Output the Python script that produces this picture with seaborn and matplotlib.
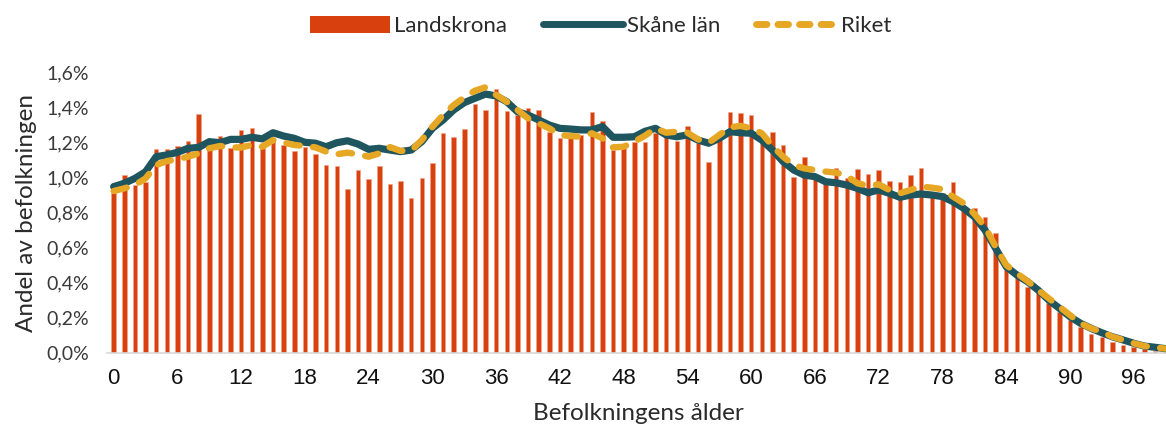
import numpy as np
import pandas as pd
import matplotlib
matplotlib.use("Agg")
import matplotlib.pyplot as plt
import seaborn as sns
from matplotlib.lines import Line2D
from matplotlib.patches import Patch
from matplotlib.ticker import FuncFormatter, FixedLocator

ages = list(range(100))

landskrona = [0.911, 1.014, 0.958, 0.977, 1.162, 1.166, 1.181, 1.212, 1.366, 1.187,
              1.236, 1.170, 1.273, 1.284, 1.170, 1.215, 1.187, 1.154, 1.177, 1.137,
              1.074, 1.067, 0.935, 1.042, 0.993, 1.067, 0.964, 0.981, 0.886, 1.000,
              1.086, 1.254, 1.231, 1.277, 1.419, 1.387, 1.507, 1.380, 1.360, 1.396,
              1.385, 1.263, 1.227, 1.227, 1.244, 1.375, 1.324, 1.158, 1.173, 1.206,
              1.206, 1.254, 1.231, 1.210, 1.296, 1.197, 1.092, 1.263, 1.375, 1.372,
              1.358, 1.260, 1.263, 1.187, 1.006, 1.116, 1.006, 0.977, 1.053, 0.996,
              1.051, 1.021, 1.042, 0.981, 0.975, 1.017, 1.053, 0.920, 0.910, 0.977,
              0.827, 0.829, 0.774, 0.684, 0.492, 0.431, 0.377, 0.339, 0.282, 0.234,
              0.187, 0.149, 0.107, 0.091, 0.063, 0.044, 0.030, 0.020, 0.012, 0.008]

skane = [0.949, 0.968, 0.996, 1.034, 1.120, 1.130, 1.145, 1.168, 1.173, 1.206,
         1.200, 1.219, 1.219, 1.231, 1.222, 1.257, 1.238, 1.225, 1.202, 1.197,
         1.177, 1.200, 1.211, 1.192, 1.162, 1.168, 1.158, 1.149, 1.158, 1.206,
         1.282, 1.330, 1.387, 1.429, 1.454, 1.478, 1.467, 1.434, 1.377, 1.358,
         1.330, 1.301, 1.282, 1.278, 1.273, 1.273, 1.292, 1.231, 1.231, 1.234,
         1.265, 1.282, 1.244, 1.234, 1.244, 1.215, 1.197, 1.225, 1.263, 1.257,
         1.254, 1.215, 1.158, 1.092, 1.044, 1.015, 1.006, 0.977, 0.971, 0.958,
         0.939, 0.914, 0.930, 0.911, 0.888, 0.901, 0.907, 0.901, 0.892, 0.863,
         0.825, 0.777, 0.701, 0.597, 0.492, 0.444, 0.406, 0.358, 0.301, 0.254,
         0.206, 0.168, 0.139, 0.114, 0.091, 0.073, 0.054, 0.038, 0.031, 0.023]

riket = [0.924, 0.939, 0.958, 0.996, 1.072, 1.095, 1.105, 1.120, 1.139, 1.168,
         1.181, 1.173, 1.173, 1.187, 1.177, 1.215, 1.200, 1.187, 1.181, 1.173,
         1.149, 1.134, 1.143, 1.134, 1.120, 1.139, 1.175, 1.153, 1.155, 1.215,
         1.291, 1.358, 1.415, 1.459, 1.497, 1.517, 1.473, 1.434, 1.387, 1.339,
         1.311, 1.282, 1.244, 1.238, 1.234, 1.254, 1.225, 1.173, 1.177, 1.206,
         1.240, 1.282, 1.257, 1.263, 1.257, 1.219, 1.200, 1.244, 1.288, 1.296,
         1.282, 1.254, 1.181, 1.120, 1.072, 1.053, 1.044, 1.035, 1.029, 1.010,
         0.968, 0.954, 0.962, 0.930, 0.911, 0.930, 0.949, 0.943, 0.934, 0.892,
         0.854, 0.793, 0.720, 0.606, 0.501, 0.454, 0.410, 0.358, 0.311, 0.263,
         0.215, 0.168, 0.139, 0.120, 0.091, 0.073, 0.054, 0.038, 0.031, 0.023]

x_ticks = list(range(0, 97, 6))
y_ticks = [0.0, 0.2, 0.4, 0.6, 0.8, 1.0, 1.2, 1.4, 1.6]

RED = "#D8400E"
TEAL = "#1E555E"
GOLD = "#E6A724"
TXT = "#2A2A2A"

sns.set_theme(style="white")
plt.rcParams["font.family"] = ["Lato", "DejaVu Sans"]

df = pd.DataFrame({"age": ages, "Landskrona": landskrona, "Skåne län": skane, "Riket": riket})

fig = plt.figure(figsize=(11.66, 4.30), dpi=100)
ax = fig.add_axes([107.3 / 1166, 1 - 352.7 / 430, 1062.5 / 1166, 280.0 / 430])

sns.barplot(data=df, x="age", y="Landskrona", native_scale=True, width=0.42,
            color=RED, saturation=1, edgecolor="#EFA58A", linewidth=0.4, ax=ax)
sns.lineplot(data=df, x="age", y="Skåne län", color=TEAL, linewidth=5.2,
             solid_capstyle="round", solid_joinstyle="round", ax=ax)
sns.lineplot(data=df, x="age", y="Riket", color=GOLD, linewidth=4.6, ax=ax)
gl = ax.lines[-1]
gl.set_dashes([2.1, 2.1])
gl.set_dash_capstyle("round")

ax.set_xlim(-0.6, 99.4)
ax.set_ylim(0, 1.6)
ax.xaxis.set_major_locator(FixedLocator(x_ticks))
ax.set_xticklabels([str(t) for t in x_ticks], fontsize=16,
                   color="#111111", family=["Liberation Sans", "DejaVu Sans"])
ax.set_yticks(y_ticks)
ax.yaxis.set_major_formatter(FuncFormatter(lambda v, p: f"{v:.1f}%".replace(".", ",")))
for lab in ax.get_yticklabels():
    lab.set_fontsize(14)
    lab.set_color("#3A3A3A")
ax.tick_params(axis="both", length=0)
ax.tick_params(axis="x", pad=11)
ax.tick_params(axis="y", pad=13)

for s in ["top", "right", "left"]:
    ax.spines[s].set_visible(False)
ax.spines["bottom"].set_color("#D9D9D9")
ax.spines["bottom"].set_linewidth(1.2)

ax.set_xlabel("Befolkningens ålder", fontsize=17.5, color=TXT, labelpad=10)
ax.set_ylabel("Andel av befolkningen", fontsize=17.5, color=TXT, labelpad=7)

handles = [Patch(facecolor=RED, edgecolor="none"),
           Line2D([0], [0], color=TEAL, lw=5, solid_capstyle="round"),
           Line2D([0], [0], color=GOLD, lw=5, dashes=[1.5, 1.6], dash_capstyle="round")]
leg = fig.legend(handles, ["Landskrona", "Skåne län", "Riket"], loc="upper center",
                 bbox_to_anchor=(0.515, 1.01), ncol=3, frameon=False, fontsize=16,
                 handlelength=3.6, handleheight=0.8, columnspacing=1.6, handletextpad=0.2)
for t in leg.get_texts():
    t.set_color(TXT)

fig.savefig("out.png", dpi=100)
